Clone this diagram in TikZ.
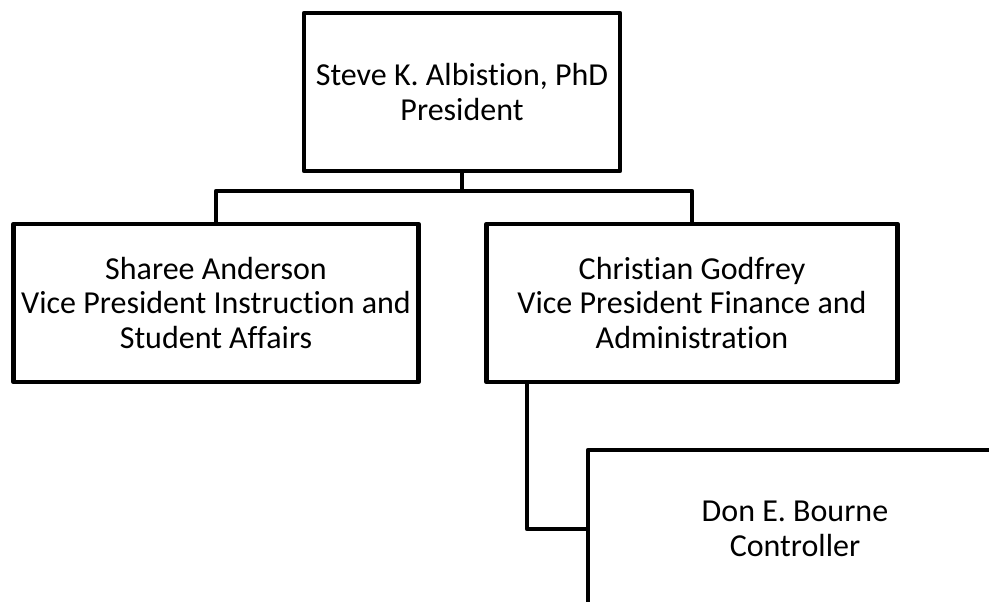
\documentclass[tikz,border=0pt]{standalone}
\usepackage{fontspec}
\setmainfont{Carlito}[Ligatures=NoCommon]
\usepackage{tikz}
\tikzset{box/.style={draw=black, line width=4.5pt, line join=round, fill=white, align=center, inner sep=0pt, minimum height=158pt, font=\fontsize{32}{34.5}\selectfont}}
\tikzset{link/.style={draw=black, line width=4.5pt, line join=round}}

\begin{document}
\begin{tikzpicture}[x=1pt, y=-1pt]
 \path[use as bounding box, clip] (0, 0) rectangle (989, 602);
  \node[box, minimum width=316pt] (pres) at (462, 92) {Steve K. Albistion, PhD\\President};
  \node[box, minimum width=405pt] (vpinst) at (216, 303) {Sharee Anderson\\Vice President Instruction and\\Student Affairs};
  \node[box, minimum width=411pt] (vpfin) at (692, 303) {Christian Godfrey\\Vice President Finance and\\Administration};
  \node[box, minimum width=414pt] (ctrl) at (795, 529) {Don E. Bourne\\Controller};
  \coordinate (bus) at (462, 191);
  \coordinate (tap) at (527, 382);
   \draw[link] (pres.south) -- (bus);
   \draw[link] (vpinst.north) |- (bus) -| (vpfin.north);
   \draw[link] (tap) |- (ctrl.west);
  \end{tikzpicture}
\end{document}
